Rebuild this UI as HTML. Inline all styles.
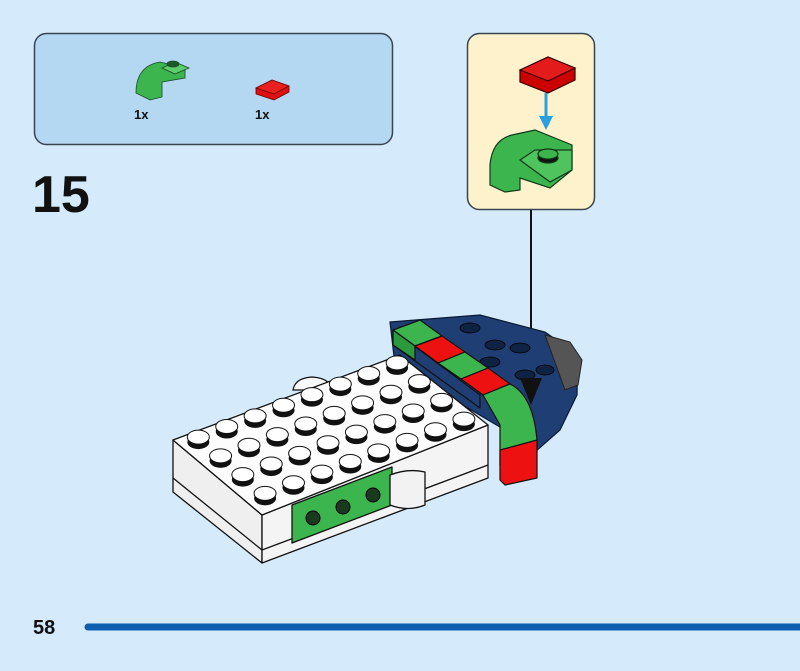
<!DOCTYPE html>
<html><head><meta charset="utf-8"><style>
html,body{margin:0;padding:0;background:#d5ebfb;}
body{width:800px;height:666px;position:relative;overflow:hidden;font-family:"Liberation Sans",sans-serif;}
</style></head><body>
<svg width="800" height="666" viewBox="0 0 800 666" xmlns="http://www.w3.org/2000/svg">
<rect x="0" y="0" width="800" height="666" fill="#d5ebfb"/>
<rect x="34.5" y="33.5" width="358" height="111" rx="12" fill="#b4d7f2" stroke="#3a4450" stroke-width="1.5"/>
<g stroke="#1a4a25" stroke-width="0.8">
<path d="M136,93 Q136,66 160,62 L185,68 L185,78 L162,82 L162,97 L150,100 Z" fill="#3cb54e"/>
<path d="M162,68 L175,62 L189,68 L175,74 Z" fill="#5ccd6a"/>
<ellipse cx="173" cy="64" rx="6" ry="3" fill="#1d5a2a"/>
</g>
<g stroke="#6a0000" stroke-width="0.8">
<path d="M256,88 L272,80 L289,86 L289,92 L274,100 L256,94 Z" fill="#d11"/>
<path d="M256,88 L272,80 L289,86 L274,94 Z" fill="#e82020"/>
</g>
<text x="134" y="119" font-size="13" font-weight="bold" fill="#111">1x</text>
<text x="255" y="119" font-size="13" font-weight="bold" fill="#111">1x</text>
<text x="32" y="212" font-size="52" font-weight="bold" fill="#111">15</text>
<rect x="467.5" y="33.5" width="127" height="176" rx="12" fill="#fdf2cb" stroke="#3a4450" stroke-width="1.5"/>
<g stroke="#300" stroke-width="1.2">
<path d="M520,70 L548,57 L575,68 L575,80 L548,93 L520,82 Z" fill="#c00"/>
<path d="M520,70 L548,57 L575,68 L548,81 Z" fill="#e41b1b"/>
</g>
<line x1="546" y1="93" x2="546" y2="118" stroke="#2aa0e0" stroke-width="3"/>
<path d="M539,116 L553,116 L546,130 Z" fill="#2aa0e0"/>
<g stroke="#0f3a18" stroke-width="1.2">
<path d="M490,165 Q492,140 512,135 L535,130 L572,145 L572,170 L550,188 L520,178 L520,190 L505,192 L490,185 Z" fill="#3cb54e"/>
<path d="M520,160 L535,150 L572,150 L572,170 L550,182 Z" fill="#4fc45e"/>
<ellipse cx="548" cy="158" rx="10" ry="5" fill="#111"/>
<ellipse cx="548" cy="154" rx="10" ry="5" fill="#3cb54e"/>
</g>
<line x1="531" y1="210" x2="531" y2="380" stroke="#111" stroke-width="2"/>
<path d="M390,322 L480,315 L545,332 L578,355 L577,395 L560,430 L535,452 L505,430 L395,365 Z" fill="#1f3e73" stroke="#0a1a33" stroke-width="1.2"/>
<g fill="#0e2244" stroke="#000" stroke-width="0.8">
<ellipse cx="470" cy="328" rx="10" ry="5"/><ellipse cx="495" cy="345" rx="10" ry="5"/>
<ellipse cx="520" cy="348" rx="10" ry="5"/><ellipse cx="490" cy="362" rx="10" ry="5"/>
<ellipse cx="525" cy="375" rx="10" ry="5"/><ellipse cx="545" cy="370" rx="9" ry="5"/>
</g>
<path d="M545,335 L570,342 L582,360 L578,385 L565,390 Z" fill="#555" stroke="#222"/>
<path d="M293,390 Q295,378 312,377 Q330,378 332,390 Z" fill="#f8f8f8" stroke="#111" stroke-width="1.2"/>
<g stroke="#111" stroke-width="1.3" stroke-linejoin="round">
<path d="M173,440 L173,492 L262,563 L262,515 Z" fill="#efefef"/>
<path d="M262,515 L488,425 L488,478 L262,563 Z" fill="#f4f4f4"/>
<path d="M173,440 L400,355 L488,425 L262,515 Z" fill="#fdfdfd"/>
<line x1="173" y1="478" x2="262" y2="550"/>
<line x1="262" y1="550" x2="488" y2="465"/>
<path d="M292,505 L392,467 L392,505 L292,543 Z" fill="#3cb54e"/>
<path d="M390,475 Q408,468 425,472 L425,505 Q408,512 390,505 Z" fill="#f2f2f2"/>
</g>
<g fill="#1a3a20" stroke="#000">
<circle cx="313" cy="518" r="7"/><circle cx="343" cy="507" r="7"/><circle cx="373" cy="495" r="7"/>
</g>
<g id="studs"></g>
<g stroke="#111" stroke-width="1.2" stroke-linejoin="round">
<path d="M393,330 L393,345 L480,408 L480,395 Z" fill="#1f3e73"/>
<path d="M393,330 L420,320 L442,336 L415,346 Z" fill="#3cb54e"/>
<path d="M415,346 L442,336 L465,352 L438,363 Z" fill="#e11"/>
<path d="M438,363 L465,352 L488,368 L461,379 Z" fill="#3cb54e"/>
<path d="M461,379 L488,368 L510,384 L483,395 Z" fill="#e11"/>
<path d="M483,395 L510,384 Q533,395 537,440 L537,452 L500,465 L500,425 Z" fill="#3cb54e"/>
<path d="M500,450 L537,440 L537,478 L505,485 L500,480 Z" fill="#e11"/>
<path d="M393,330 L393,345 L415,360 L415,346 Z" fill="#2a9a3c"/>
</g>
<path d="M520,378 L542,378 L531,405 Z" fill="#111"/>
<text x="33" y="634" font-size="20" font-weight="bold" fill="#111">58</text>
<line x1="88" y1="627" x2="804" y2="627" stroke="#0b5fae" stroke-width="7" stroke-linecap="round"/>
</svg>
<script>
var g=document.getElementById('studs'),s='';
for(var j=3;j>=0;j--)for(var i=7;i>=0;i--){
var x=173+(i+0.5)*28.4+(j+0.5)*22.25, y=440-(i+0.5)*10.6+(j+0.5)*18.75;
s+='<ellipse cx="'+x+'" cy="'+(y-2)+'" rx="11" ry="7" fill="#111"/>'+
'<ellipse cx="'+x+'" cy="'+(y-7)+'" rx="11" ry="7" fill="#fff" stroke="#111" stroke-width="1"/>';
}
g.innerHTML=s;
</script>
</body></html>
